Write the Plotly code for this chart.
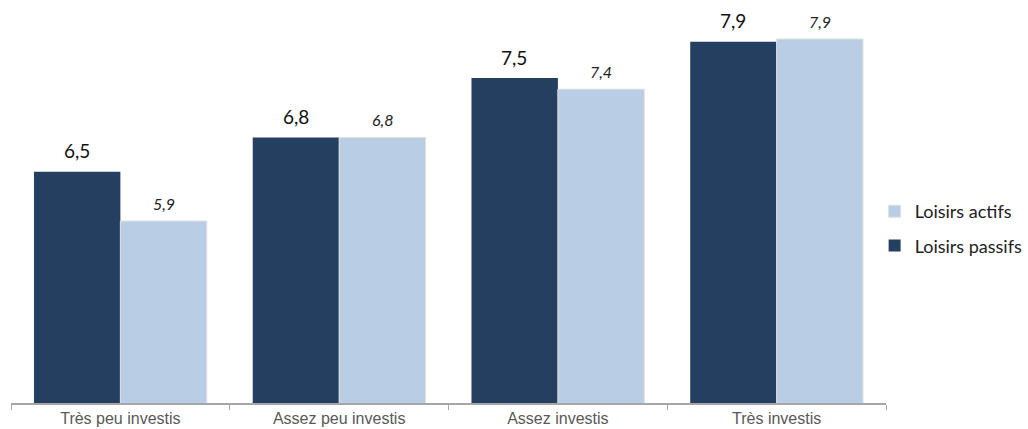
import plotly.graph_objects as go

categories = ["Très peu investis", "Assez peu investis", "Assez investis", "Très investis"]
passifs = [6.49, 6.86, 7.50, 7.89]
actifs = [5.96, 6.86, 7.38, 7.92]
passifs_labels = ["6,5", "6,8", "7,5", "7,9"]
actifs_labels = ["5,9", "6,8", "7,4", "7,9"]

dark = "#243F60"
light = "#B9CDE5"

fig = go.Figure()
fig.add_trace(go.Bar(x=categories, y=passifs, name="Loisirs passifs", legendgroup="p", legendrank=2,
                     marker=dict(color=dark, line=dict(width=0))))
fig.add_trace(go.Bar(x=categories, y=actifs, name="Loisirs actifs", legendgroup="a", legendrank=1,
                     marker=dict(color=light, line=dict(color="#E0E0E0", width=1))))

for i, c in enumerate(categories):
    fig.add_annotation(x=c, y=passifs[i], text=passifs_labels[i], showarrow=False,
                       xshift=-43.5, yshift=21, font=dict(family="Lato", size=19, color="#111111"))
    fig.add_annotation(x=c, y=actifs[i], text="<i>" + actifs_labels[i] + "</i>", showarrow=False,
                       xshift=43.5, yshift=18, font=dict(family="Lato", size=16, color="#222222"))

fig.update_layout(
    width=1028, height=429,
    margin=dict(l=11, r=138, t=0, b=26),
    plot_bgcolor="white", paper_bgcolor="white",
    barmode="group", bargap=0.21, bargroupgap=0,
    showlegend=True,
    legend=dict(x=0.987, xanchor="left", y=0.433, yanchor="middle", traceorder="grouped",
                font=dict(family="Lato", size=18, color="#222222"),
                itemwidth=30, tracegroupgap=8, bgcolor="rgba(0,0,0,0)"),
    xaxis=dict(type="category", showline=True, linecolor="#A6A6A6", linewidth=1.5,
               ticks="outside", tickson="boundaries", ticklen=5, tickcolor="#A6A6A6",
               tickfont=dict(family="Liberation Sans", size=16, color="#595959"),
               showgrid=False, fixedrange=True),
    yaxis=dict(range=[4, 8.34], visible=False, showgrid=False, fixedrange=True),
)

fig.write_html("out.html")
